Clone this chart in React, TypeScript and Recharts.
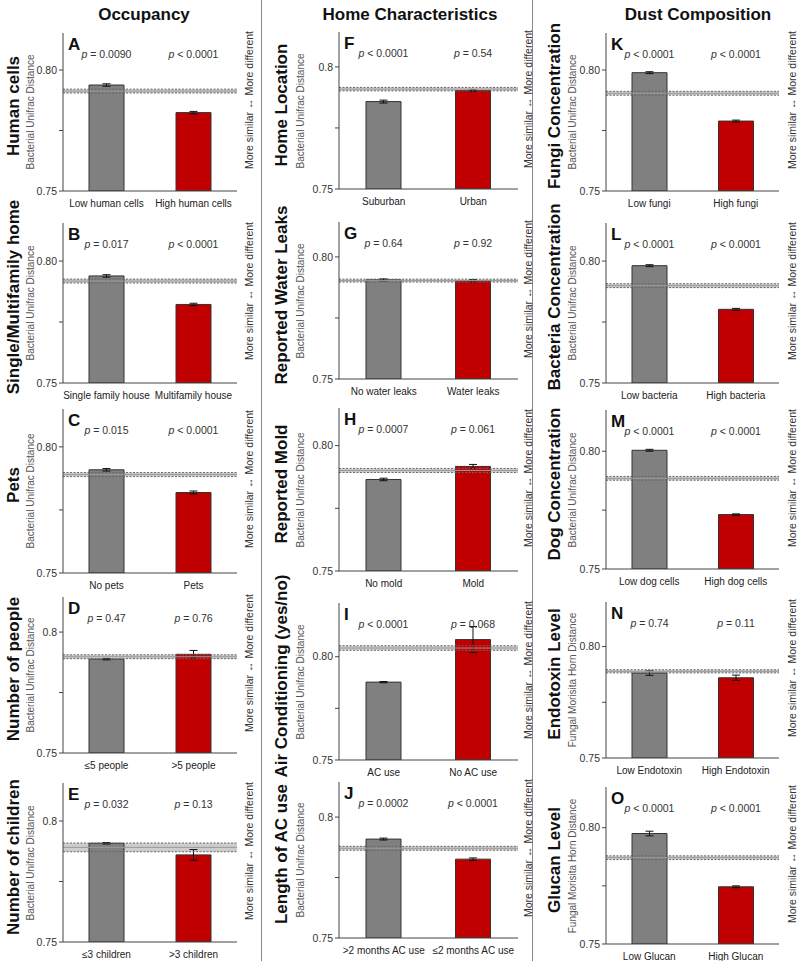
import React from 'react';
import { BarChart, Bar, XAxis, YAxis, Cell, ErrorBar, LabelList, ReferenceLine, ReferenceArea } from 'recharts';

// ---- data ----
const columnTitles = ['Occupancy', 'Home Characteristics', 'Dust Composition'];
const panelLetters = ['A', 'B', 'C', 'D', 'E', 'F', 'G', 'H', 'I', 'J', 'K', 'L', 'M', 'N', 'O'];
const rowTitles = [
  'Human cells', 'Single/Multifamily home', 'Pets', 'Number of people', 'Number of children',
  'Home Location', 'Reported Water Leaks', 'Reported Mold', 'Air Conditioning (yes/no)', 'Length of AC use',
  'Fungi Concentration', 'Bacteria Concentration', 'Dog Concentration', 'Endotoxin Level', 'Glucan Level',
];
const yAxisTitles = [
  'Bacterial Unifrac Distance', 'Bacterial Unifrac Distance', 'Bacterial Unifrac Distance', 'Bacterial Unifrac Distance', 'Bacterial Unifrac Distance',
  'Bacterial Unifrac Distance', 'Bacterial Unifrac Distance', 'Bacterial Unifrac Distance', 'Bacterial Unifrac Distance', 'Bacterial Unifrac Distance',
  'Bacterial Unifrac Distance', 'Bacterial Unifrac Distance', 'Bacterial Unifrac Distance', 'Fungal Morisita Horn Distance', 'Fungal Morisita Horn Distance',
];
const lowCategories = [
  'Low human cells', 'Single family house', 'No pets', '≤5 people', '≤3 children',
  'Suburban', 'No water leaks', 'No mold', 'AC use', '>2 months AC use',
  'Low fungi', 'Low bacteria', 'Low dog cells', 'Low Endotoxin', 'Low Glucan',
];
const highCategories = [
  'High human cells', 'Multifamily house', 'Pets', '>5 people', '>3 children',
  'Urban', 'Water leaks', 'Mold', 'No AC use', '≤2 months AC use',
  'High fungi', 'High bacteria', 'High dog cells', 'High Endotoxin', 'High Glucan',
];
const lowValues = [0.7938, 0.7939, 0.7909, 0.7888, 0.7908, 0.7858, 0.7906, 0.7865, 0.7877, 0.7909, 0.7989, 0.7981, 0.8004, 0.7881, 0.7975];
const highValues = [0.7824, 0.7822, 0.7819, 0.7908, 0.786, 0.7903, 0.7902, 0.7917, 0.8083, 0.7826, 0.7789, 0.7802, 0.7731, 0.786, 0.7746];
const lowErrors = [0.0005, 0.0005, 0.0005, 0.0003, 0.0003, 0.0006, 0.0004, 0.0005, 0.0003, 0.0004, 0.0004, 0.0004, 0.0004, 0.001, 0.001];
const highErrors = [0.0005, 0.0005, 0.0006, 0.0016, 0.0022, 0.0003, 0.0005, 0.0008, 0.0063, 0.0005, 0.0004, 0.0004, 0.0003, 0.0012, 0.0004];
const refMeans = [0.7913, 0.7918, 0.789, 0.7898, 0.7891, 0.7909, 0.7903, 0.7901, 0.8042, 0.7871, 0.7904, 0.7899, 0.7885, 0.7889, 0.7871];
const refErrors = [0.0008, 0.0008, 0.0008, 0.0008, 0.0018, 0.0007, 0.0006, 0.0008, 0.0011, 0.0008, 0.0008, 0.0008, 0.0008, 0.0007, 0.0008];
const lowPValues = [' = 0.0090', ' = 0.017', ' = 0.015', ' = 0.47', ' = 0.032', ' < 0.0001', ' = 0.64', ' = 0.0007', ' < 0.0001', ' = 0.0002', ' < 0.0001', ' < 0.0001', ' < 0.0001', ' = 0.74', ' < 0.0001'];
const highPValues = [' < 0.0001', ' < 0.0001', ' < 0.0001', ' = 0.76', ' = 0.13', ' = 0.54', ' = 0.92', ' = 0.061', ' = 0.068', ' < 0.0001', ' < 0.0001', ' < 0.0001', ' < 0.0001', ' = 0.11', ' < 0.0001'];
const yTicks = [0.75, 0.775, 0.8];
const shortTickPanels = ['D', 'E', 'F', 'J'];
const domainMax = [0.8153, 0.8156, 0.815, 0.8145, 0.8157, 0.8143, 0.8143, 0.815, 0.826, 0.8145, 0.8153, 0.8156, 0.8175, 0.82, 0.8175];

// ---- layout ----
const colPlotLeft = [63, 339, 606];
const colPlotRight = [237, 518, 779];
const plotTops = [33, 223, 409, 597, 783, 32, 222, 408, 603, 782, 33, 223, 410, 602, 787];
const plotBottoms = [191, 383, 573, 753, 942, 189, 379, 571, 760, 938, 191, 383, 569, 758, 944];
const rowTitleX = [14, 282, 555];
const yTitleX = [30, 300, 572];
const rightLabelX = [249, 528, 792];
const columnTitleX = [144, 410, 698];
const separatorX = [261, 532];

const FONT = '"Liberation Sans", Arial, Helvetica, sans-serif';
const M_TOP = 5;
const Y_W = 45;
const X_H = 24;

function PLabel(props: any) {
  const vb = props.viewBox || {};
  const x = props.x ?? vb.x;
  const w = props.width ?? vb.width;
  if (x == null || w == null) return null;
  return (
    <text x={x + w / 2} y={M_TOP + 25} textAnchor="middle" fontSize={10.5} fill="#333" fontFamily={FONT}>
      <tspan fontStyle="italic">p</tspan>
      <tspan>{props.value}</tspan>
    </text>
  );
}

function Panel({ i }: { i: number }) {
  const col = Math.floor(i / 5);
  const L = colPlotLeft[col];
  const R = colPlotRight[col];
  const T = plotTops[i];
  const B = plotBottoms[i];
  const w = R - L;
  const h = B - T;
  const data = [
    { name: lowCategories[i], v: lowValues[i], err: lowErrors[i], p: lowPValues[i], fill: '#808080' },
    { name: highCategories[i], v: highValues[i], err: highErrors[i], p: highPValues[i], fill: '#c00000' },
  ];
  const short = shortTickPanels.includes(panelLetters[i]);
  const fmt = (v: number) => (Math.abs(v - 0.775) < 1e-6 ? '' : Math.abs(v - 0.8) < 1e-6 ? (short ? '0.8' : '0.80') : '0.75');
  const m = refMeans[i];
  const se = refErrors[i];
  const dom: [number, number] = [0.75, domainMax[i]];
  const cy = (T + B) / 2;
  return (
    <>
      <div style={{ position: 'absolute', left: L - Y_W, top: T - M_TOP }}>
        <BarChart width={w + Y_W + 5} height={h + M_TOP + X_H} data={data} margin={{ top: M_TOP, right: 5, bottom: 0, left: 0 }}>
          <XAxis dataKey="name" height={X_H} tickLine={false} axisLine={{ stroke: '#444' }} interval={0}
            tick={{ fontSize: 10, fill: '#222', fontFamily: FONT }} tickMargin={3} />
          <XAxis xAxisId="top" orientation="top" dataKey="name" height={0} tick={false} tickLine={false} axisLine={{ stroke: '#444' }} />
          <YAxis width={Y_W} domain={dom} ticks={yTicks} tickFormatter={fmt} type="number" allowDataOverflow
            tickSize={4} tickLine={{ stroke: '#444' }} axisLine={{ stroke: '#444' }}
            tick={{ fontSize: 10.5, fill: '#333', fontFamily: FONT }} />
          <YAxis yAxisId="right" orientation="right" width={0} domain={dom} type="number" tick={false} tickLine={false} axisLine={{ stroke: '#444' }} />
          <Bar dataKey="v" barSize={35} stroke="#333" strokeWidth={1} isAnimationActive={false}>
            {data.map((d, k) => (
              <Cell key={k} fill={d.fill} />
            ))}
            <ErrorBar dataKey="err" width={4} stroke="#111" strokeWidth={1} />
            <LabelList dataKey="p" content={<PLabel />} />
          </Bar>
          <ReferenceArea y1={m - se} y2={m + se} fill="#b8b8b8" fillOpacity={0.7} stroke="none" />
          <ReferenceLine y={m} stroke="#999" strokeWidth={1} />
          <ReferenceLine y={m + se} stroke="#666" strokeDasharray="2 1.5" strokeWidth={1} />
          <ReferenceLine y={m - se} stroke="#666" strokeDasharray="2 1.5" strokeWidth={1} />
        </BarChart>
      </div>
      <div style={{ position: 'absolute', left: L + 5, top: T + 2, fontFamily: FONT, fontWeight: 'bold', fontSize: 17, color: '#111', lineHeight: '20px' }}>
        {panelLetters[i]}
      </div>
      <div style={{ position: 'absolute', left: rowTitleX[col], top: cy - 6, transform: 'translate(-50%,-50%) rotate(-90deg)', whiteSpace: 'nowrap', fontFamily: FONT, fontWeight: 'bold', fontSize: 17, color: '#111' }}>
        {rowTitles[i]}
      </div>
      <div style={{ position: 'absolute', left: yTitleX[col], top: cy, transform: 'translate(-50%,-50%) rotate(-90deg)', whiteSpace: 'nowrap', fontFamily: FONT, fontSize: 10, color: '#555' }}>
        {yAxisTitles[i]}
      </div>
      <div style={{ position: 'absolute', left: rightLabelX[col], top: cy - 12, transform: 'translate(-50%,-50%) rotate(-90deg)', whiteSpace: 'nowrap', fontFamily: FONT, fontSize: 10.5, color: '#333' }}>
        More similar ↔ More different
      </div>
    </>
  );
}

export default function App() {
  return (
    <div style={{ position: 'absolute', left: 0, top: 0, width: 800, height: 961, background: '#fff', overflow: 'hidden' }}>
      {columnTitles.map((t, c) => (
        <div key={t} style={{ position: 'absolute', left: columnTitleX[c], top: 15, transform: 'translate(-50%,-50%)', whiteSpace: 'nowrap', fontFamily: FONT, fontWeight: 'bold', fontSize: 17, color: '#111' }}>
          {t}
        </div>
      ))}
      {separatorX.map((x) => (
        <div key={x} style={{ position: 'absolute', left: x, top: 0, width: 1, height: 961, background: '#888' }} />
      ))}
      {panelLetters.map((_, i) => (
        <Panel key={i} i={i} />
      ))}
    </div>
  );
}
